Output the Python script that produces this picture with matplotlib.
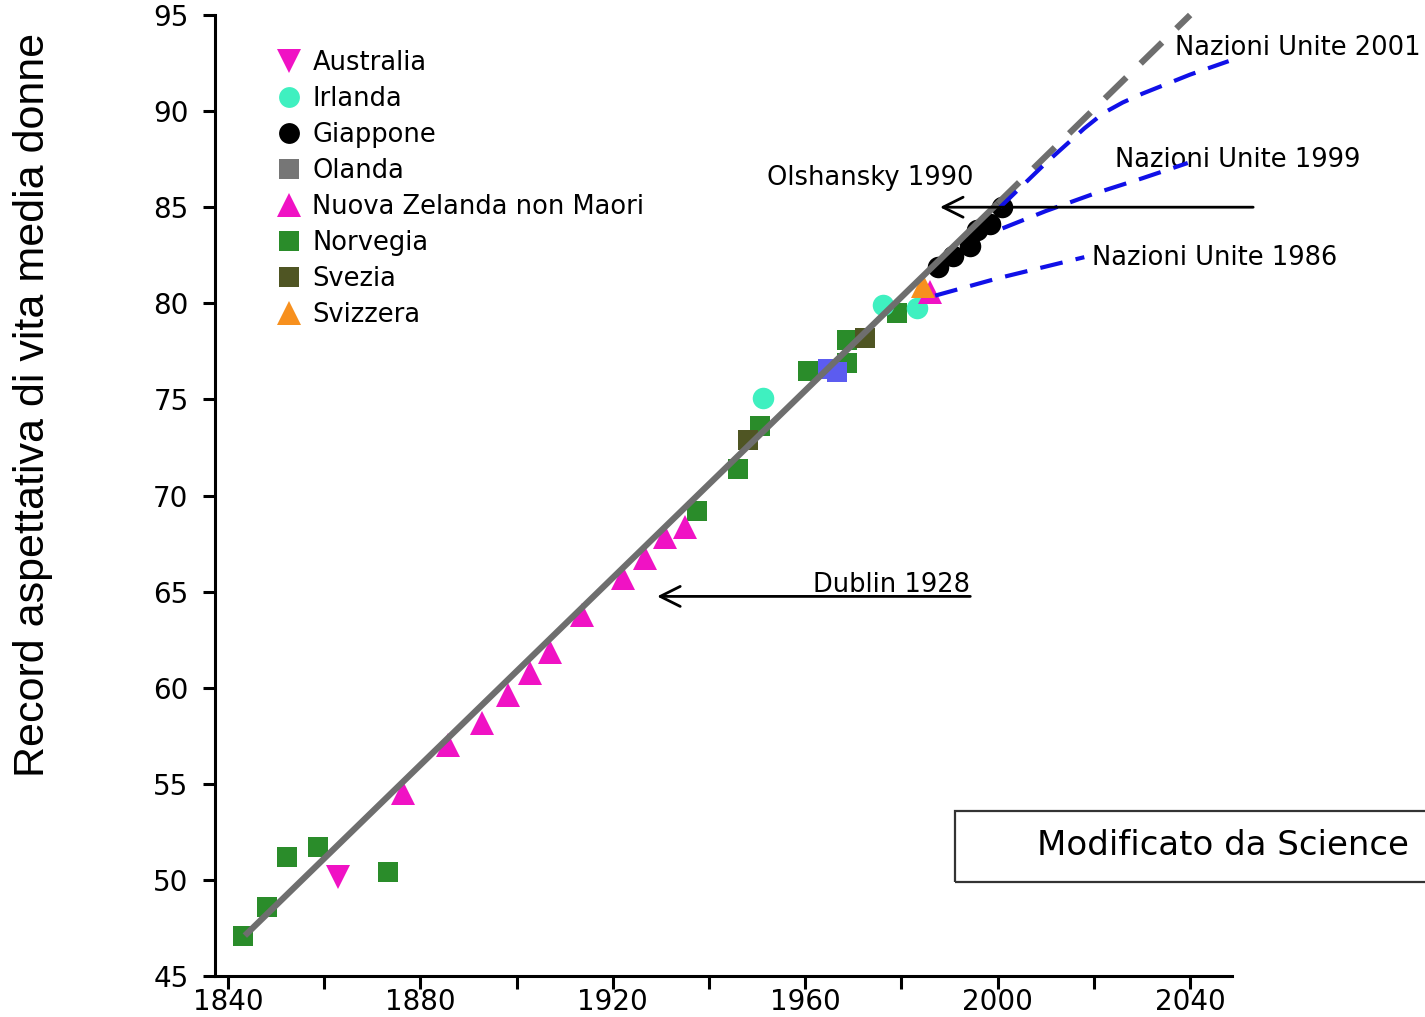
import matplotlib
matplotlib.use("Agg")
import matplotlib.pyplot as plt
from matplotlib.lines import Line2D
from matplotlib.patches import Rectangle

plt.rcParams['font.family'] = ['DejaVu Sans']

# ---------------- data ----------------
aus_years = [1862.9]
aus_vals = [50.15]
irl_years = [1951.2, 1976.2, 1983.2]
irl_vals = [75.07, 79.9, 79.76]
jpn_years = [1987.6, 1990.7, 1994.3, 1995.7, 1998.4, 2000.9]
jpn_vals = [81.9, 82.45, 83.0, 83.8, 84.1, 85.0]
ned_years = [1964.8, 1966.6]
ned_vals = [76.6, 76.4]
nz_years = [1876.4, 1885.7, 1892.8, 1898.2, 1902.8, 1906.9, 1913.6, 1922.1,
            1926.7, 1930.9, 1935.0, 1986.0]
nz_vals = [54.5, 57.0, 58.15, 59.6, 60.75, 61.85, 63.8, 65.7,
           66.75, 67.85, 68.35, 80.6]
nor_years = [1843.1, 1848.1, 1852.3, 1858.7, 1873.3, 1937.5, 1946.0, 1950.6,
             1960.6, 1968.7, 1968.7, 1979.1]
nor_vals = [47.1, 48.6, 51.2, 51.7, 50.4, 69.2, 71.4, 73.6,
            76.5, 76.9, 78.1, 79.5]
swe_years = [1948.0, 1972.4]
swe_vals = [72.9, 78.2]
sui_years = [1984.5]
sui_vals = [80.9]

trend_years = [1843.5, 2000.0]
trend_vals = [47.1, 85.2]
trend_ext_years = [2000.0, 2040.0]
trend_ext_vals = [85.2, 95.0]

un2001_years = [2000.5, 2010, 2018, 2022, 2026, 2030, 2040, 2048]
un2001_vals = [85.0, 87.3, 89.1, 89.9, 90.45, 90.9, 91.9, 92.6]
un1999_years = [2001, 2010, 2020, 2030, 2039.5]
un1999_vals = [83.9, 84.8, 85.7, 86.5, 87.3]
un1986_years = [1987, 2000, 2018]
un1986_vals = [80.4, 81.3, 82.4]

olshansky_limit = 85.0
dublin_limit = 64.75

labels = ["Australia", "Irlanda", "Giappone", "Olanda",
          "Nuova Zelanda non Maori", "Norvegia", "Svezia", "Svizzera"]
x_major = [1840, 1880, 1920, 1960, 2000, 2040]
x_minor = [1860, 1900, 1940, 1980, 2020]
y_ticks = [45, 50, 55, 60, 65, 70, 75, 80, 85, 90, 95]

# ---------------- colours ----------------
c_mag = "#f012c4"
c_irl = "#3ff0c0"
c_jpn = "#000000"
c_ned_leg = "#767676"
c_ned_pt = "#5c5cf0"
c_nor = "#2a8c2a"
c_swe = "#4f5523"
c_sui = "#f7901e"
c_trend = "#6e6e6e"
c_un = "#1010e8"

W, H = 1425, 1017
fig = plt.figure(figsize=(W / 100, H / 100), dpi=100)
ax = fig.add_axes([215 / W, 1 - 976 / H, (1232 - 215) / W, (976 - 15) / H])
ax.set_xlim(1837.3, 2048.7)
ax.set_ylim(45, 95)

ms_sq, ms_ci, ms_tr = 14.5, 15.5, 17
kw = dict(linestyle='none', markeredgewidth=0, zorder=2, clip_on=False)
ax.plot(nor_years, nor_vals, marker='s', color=c_nor, markersize=ms_sq, **kw)
ax.plot(swe_years, swe_vals, marker='s', color=c_swe, markersize=ms_sq, **kw)
ax.plot(ned_years, ned_vals, marker='s', color=c_ned_pt, markersize=ms_sq, **kw)
ax.plot(irl_years, irl_vals, marker='o', color=c_irl, markersize=ms_ci, **kw)
ax.plot(aus_years, aus_vals, marker='v', color=c_mag, markersize=ms_tr, **kw)
ax.plot(nz_years, nz_vals, marker='^', color=c_mag, markersize=ms_tr, **kw)
ax.plot(sui_years, sui_vals, marker='^', color=c_sui, markersize=ms_tr, **kw)
ax.plot(jpn_years, jpn_vals, marker='o', color=c_jpn, markersize=ms_ci, **kw)

# trend line
ax.plot(trend_years, trend_vals, color=c_trend, lw=4.5, zorder=3,
        solid_capstyle='butt')
ax.plot(trend_ext_years, trend_ext_vals, color=c_trend, lw=4.5, zorder=3,
        dashes=(4.8, 3.2), dash_capstyle='butt', clip_on=False)

# UN projections
for yrs, vals in [(un2001_years, un2001_vals), (un1999_years, un1999_vals),
                  (un1986_years, un1986_vals)]:
    ax.plot(yrs, vals, color=c_un, lw=3, dashes=(5.5, 3.2), zorder=4,
            clip_on=False)

# arrows
arrow_kw = dict(arrowstyle='->', lw=2.0, color='black',
                mutation_scale=36, shrinkA=0, shrinkB=0)
ax.annotate('', xy=(1988.0, olshansky_limit), xytext=(2053.1, olshansky_limit),
            arrowprops=arrow_kw, annotation_clip=False, zorder=5)
ax.annotate('', xy=(1929.2, dublin_limit), xytext=(1994.3, dublin_limit),
            arrowprops=arrow_kw, annotation_clip=False, zorder=5)

fs = 18.5
ax.text(1994.9, 86.15, "Olshansky 1990", fontsize=fs, ha='right', va='baseline')
ax.text(1994.3, 64.98, "Dublin 1928", fontsize=fs, ha='right', va='baseline')
ax.text(2036.9, 92.92, "Nazioni Unite 2001", fontsize=fs, ha='left',
        va='baseline', clip_on=False)
ax.text(2024.4, 87.09, "Nazioni Unite 1999", fontsize=fs, ha='left',
        va='baseline', clip_on=False)
ax.text(2019.6, 81.99, "Nazioni Unite 1986", fontsize=fs, ha='left',
        va='baseline', clip_on=False)

# axes styling
for s in ['top', 'right']:
    ax.spines[s].set_visible(False)
for s in ['left', 'bottom']:
    ax.spines[s].set_linewidth(2.2)
ax.set_xticks(x_major)
ax.set_xticks(x_minor, minor=True)
ax.set_yticks(y_ticks)
ax.tick_params(axis='x', which='both', direction='out', length=9, width=2.2,
               labelsize=20, pad=0)
ax.tick_params(axis='y', which='major', direction='out', length=9, width=2.2,
               labelsize=20, pad=10)
ax.yaxis.get_major_ticks()[-1].tick1line.set_color(c_un)

# legend
handles = [
    Line2D([], [], marker='v', color=c_mag, markersize=17, linestyle='none', markeredgewidth=0),
    Line2D([], [], marker='o', color=c_irl, markersize=15, linestyle='none', markeredgewidth=0),
    Line2D([], [], marker='o', color=c_jpn, markersize=15, linestyle='none', markeredgewidth=0),
    Line2D([], [], marker='s', color=c_ned_leg, markersize=14, linestyle='none', markeredgewidth=0),
    Line2D([], [], marker='^', color=c_mag, markersize=17, linestyle='none', markeredgewidth=0),
    Line2D([], [], marker='s', color=c_nor, markersize=14, linestyle='none', markeredgewidth=0),
    Line2D([], [], marker='s', color=c_swe, markersize=14, linestyle='none', markeredgewidth=0),
    Line2D([], [], marker='^', color=c_sui, markersize=17, linestyle='none', markeredgewidth=0),
]
ax.legend(handles, labels, loc='upper left', frameon=False, fontsize=fs,
          bbox_to_anchor=(276 / W, 1 - 50 / H), bbox_transform=fig.transFigure,
          borderpad=0, borderaxespad=0, handlelength=1.0, handletextpad=0.42,
          labelspacing=0.39)

# y label
fig.text(33 / W, 1 - 405 / H, "Record aspettativa di vita media donne",
         rotation=90, ha='center', va='center', fontsize=31,
         family=['Liberation Sans', 'DejaVu Sans'])

# source box
fig.patches.append(Rectangle((955 / W, 1 - 882 / H), 600 / W, 71 / H,
                             transform=fig.transFigure, fill=False,
                             edgecolor='#333333', lw=1.6))
fig.text(1037 / W, 1 - 855 / H, "Modificato da Science", fontsize=24.5,
         ha='left', va='baseline')

fig.savefig("out.png", dpi=100)
